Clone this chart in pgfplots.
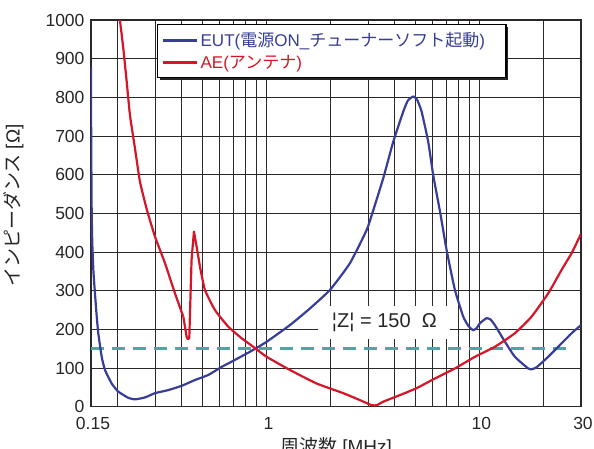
\documentclass[border=0pt]{standalone}
\usepackage{fontspec}
\setmainfont{Liberation Sans}
\newfontfamily\cjk{Noto Sans CJK JP}
\usepackage{pgfplots}
\pgfplotsset{compat=1.18}
\usetikzlibrary{shadows}
\makeatletter
\tikzset{no preactions/.code={\let\tikz@preactions\pgfutil@empty}}
\makeatother
\definecolor{eut}{RGB}{55,62,152}
\definecolor{ae}{RGB}{212,22,40}
\definecolor{zline}{RGB}{80,164,164}
\definecolor{gridc}{RGB}{45,40,40}
\newcommand\jp[1]{{\cjk #1}}
\begin{document}
\begin{tikzpicture}
\path[use as bounding box] (-91pt,-41.3pt) rectangle (503pt,406.7pt);
\begin{axis}[
  at={(0,0)}, anchor=south west,
  xmode=log, xmin=0.15, xmax=30, ymin=0, ymax=1000,
  width=490pt, height=386.7pt, scale only axis,
  xtick={0.15,1,10,30}, xticklabels={0.15,1,10,30},
  minor xtick={0.2,0.3,0.4,0.5,0.6,0.7,0.8,0.9,2,3,4,5,6,7,8,9,20},
  ytick={0,100,...,1000},
  grid=both,
  major grid style={gridc, line width=1pt},
  minor grid style={gridc, line width=1pt},
  tick style={draw=none},
  axis line style={gridc, line width=1.2pt},
  /pgf/number format/assume math mode=true,
  /pgf/number format/1000 sep={},
  tick label style={font=\fontsize{17.5}{20}\selectfont, text=black!85},
  yticklabel style={xshift=-3pt},
  xticklabel style={yshift=-7pt, xshift=2pt},
  xlabel={\jp{周波数} [MHz]},
  ylabel={\jp{インピーダンス} [Ω]},
  label style={font=\fontsize{19}{22}\selectfont, text=black!85},
  xlabel style={at={(axis description cs:0.5,-0.0)}, anchor=north, yshift=-27pt},
  ylabel style={at={(axis description cs:-0.158,0.52)}, anchor=center},
  legend style={at={(rel axis cs:0.1347,0.9897)}, anchor=north west,
    draw=black, line width=1.3pt, fill=white,
    drop shadow={shadow xshift=2.5pt, shadow yshift=-2.5pt, fill=black!85, opacity=1},
    nodes={no preactions},
    font=\fontsize{17}{20}\selectfont, inner xsep=4pt, inner ysep=5.5pt,
    row sep=3.5pt, cells={anchor=west}},
  legend image code/.code={\draw[#1, no preactions, line width=3pt] (0pt,0pt) -- (34pt,0pt);},
]
\addplot[forget plot, zline, line width=2.6pt, dash pattern=on 13pt off 8pt] coordinates {(0.15,150) (25.5,150)};
\addplot[eut, line width=2.2pt, smooth, tension=0.3] coordinates {
(0.1500,879) (0.1503,700) (0.1511,508) (0.1521,422) (0.1540,350) (0.1566,293)
(0.1595,235) (0.1623,190) (0.1684,129) (0.1745,95) (0.1876,60) (0.2015,39)
(0.2245,23) (0.2413,19) (0.2690,24) (0.2996,35) (0.3460,43) (0.3999,54)
(0.4616,69) (0.5330,82) (0.6163,103) (0.7116,121) (0.8671,147) (1.0025,168)
(1.289,211) (1.600,254) (1.987,302) (2.466,371) (2.955,457) (3.174,508)
(3.536,591) (3.939,685) (4.389,763) (4.617,792) (4.890,802) (5.089,795)
(5.354,763) (5.750,685) (6.069,599) (6.525,506) (7.015,405) (7.676,302)
(8.396,233) (8.9,208) (9.353,198) (9.7,203) (10.06,216) (10.81,229)
(11.3,225) (11.82,211) (13.18,168) (14.68,129) (16.95,99) (17.64,97)
(18.56,102) (21.04,129) (24.33,164) (27.10,190) (30,211)};
\addlegendentry{\textcolor{eut}{EUT(\jp{電源}ON\_\jp{チューナーソフト起動})\hspace*{15pt}}}
\addplot[ae, line width=2.2pt, smooth, tension=0.3] coordinates {
(0.2040,1010) (0.2127,927) (0.2207,840) (0.2286,754) (0.2413,668) (0.2547,582)
(0.2739,511) (0.2996,440) (0.3339,371) (0.3720,293) (0.4070,233)};
\addlegendentry{\textcolor{ae}{AE(\jp{アンテナ})}}
\addplot[forget plot, ae, line width=2.2pt, line join=round] coordinates {
(0.4070,233) (0.4221,180) (0.4270,175) (0.4341,177) (0.4450,380) (0.4566,453)
(0.4700,414) (0.4873,362)};
\addplot[forget plot, ae, line width=2.2pt, smooth, tension=0.3] coordinates {
(0.4873,362)
(0.5143,302) (0.5731,250) (0.6618,207) (0.7649,177) (0.8671,155) (1.0025,129)
(1.289,95) (1.721,60) (2.294,35) (2.748,17) (3.119,4) (3.30,4) (3.536,13)
(4.234,30) (5.073,48) (6.182,73) (7.676,99) (9.527,129) (11.82,155)
(14.68,190) (17.58,233) (21.04,293) (24.33,354) (27.10,397) (30,447)};
\node[fill=white, inner xsep=0pt, inner ysep=0pt, minimum width=132pt, minimum height=33pt,
  font=\fontsize{20}{24}\selectfont, text=black!85] at (axis cs:3.58,218) {¦Z¦ = 150\ \ Ω};
\end{axis}
\end{tikzpicture}
\end{document}
